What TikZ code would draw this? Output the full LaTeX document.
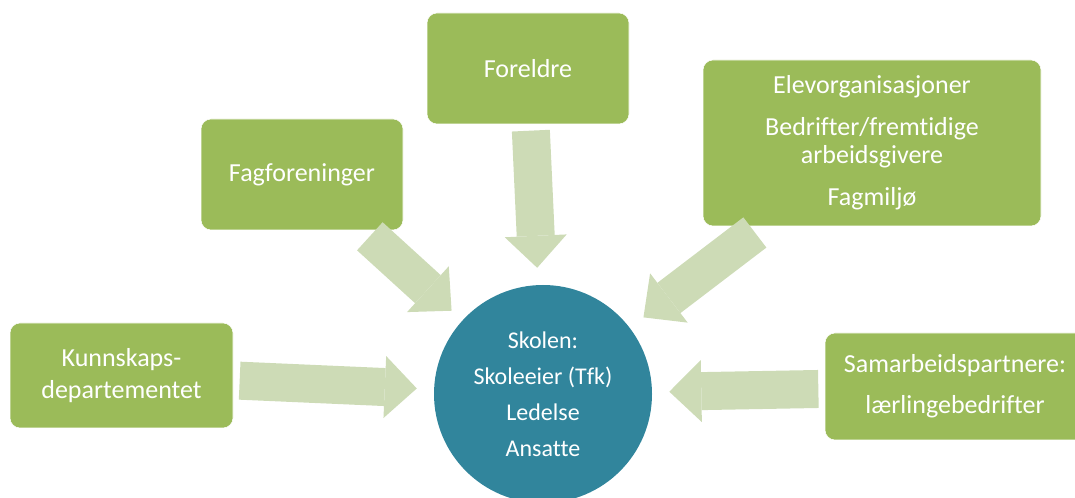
\documentclass[tikz,border=0pt]{standalone}
\usepackage{fontspec}
\setmainfont{Carlito}[Ligatures=NoCommon]
\definecolor{boxgreen}{HTML}{9BBB59}
\definecolor{flowgreen}{HTML}{CDDBB6}
\definecolor{hubteal}{HTML}{31859C}
\usetikzlibrary{arrows.meta}

\begin{document}
\begin{tikzpicture}[x=0.75pt, y=-0.75pt,
  box/.style={draw=white, fill=boxgreen, rounded corners=7.5pt, outer sep=0pt, inner sep=0pt, align=center, text=white, font=\fontsize{19.5}{21}\selectfont},
  hub/.style={circle, fill=hubteal, minimum size=163.5pt, outer sep=0pt, inner sep=0pt, align=center, text=white, font=\fontsize{18}{22}\selectfont},
  flow/.style={draw=flowgreen, line width=28.5pt, -{Triangle[length=24pt, width=46.5pt, line width=0pt]}, shorten <=5pt, shorten >=13pt}]
  \useasboundingbox (0,0) rectangle (1075,498);
  % the school in the middle
  \node[hub] (skolen) at (543,394) {Skolen:\\[5pt]Skoleeier (Tfk)\\[5pt]Ledelse\\[5pt]Ansatte};
  % the parties round it
  \node[box, minimum width=151.5pt, minimum height=83.25pt] (foreldre) at (528,68.5) {Foreldre};
  \node[box, minimum width=151.5pt, minimum height=83.25pt] (fag) at (302,174.5) {Fagforeninger};
  \node[box, minimum width=253.5pt, minimum height=124.5pt] (elev) at (872,143) {Elevorganisasjoner\\[10.5pt]Bedrifter/fremtidige\\arbeidsgivere\\[10.5pt]Fagmiljø};
  \node[box, minimum width=167.25pt, minimum height=78.75pt] (kd) at (121.5,375.5) {Kunnskaps-\\[3pt]departementet};
  \node[box, minimum width=195pt, minimum height=80.25pt] (samarbeid) at (955,386.5) {Samarbeidspartnere:\\[9.75pt]lærlingebedrifter};
  % arrows into the school
  \draw[flow] (foreldre) -- (skolen);
  \draw[flow, shorten <=7pt, shorten >=11pt] (fag) -- (skolen);
  \draw[flow, shorten <=8pt] (elev) -- (skolen);
  \draw[flow] (kd) -- (skolen);
  \draw[flow] (samarbeid) -- (skolen);
\end{tikzpicture}
\end{document}
